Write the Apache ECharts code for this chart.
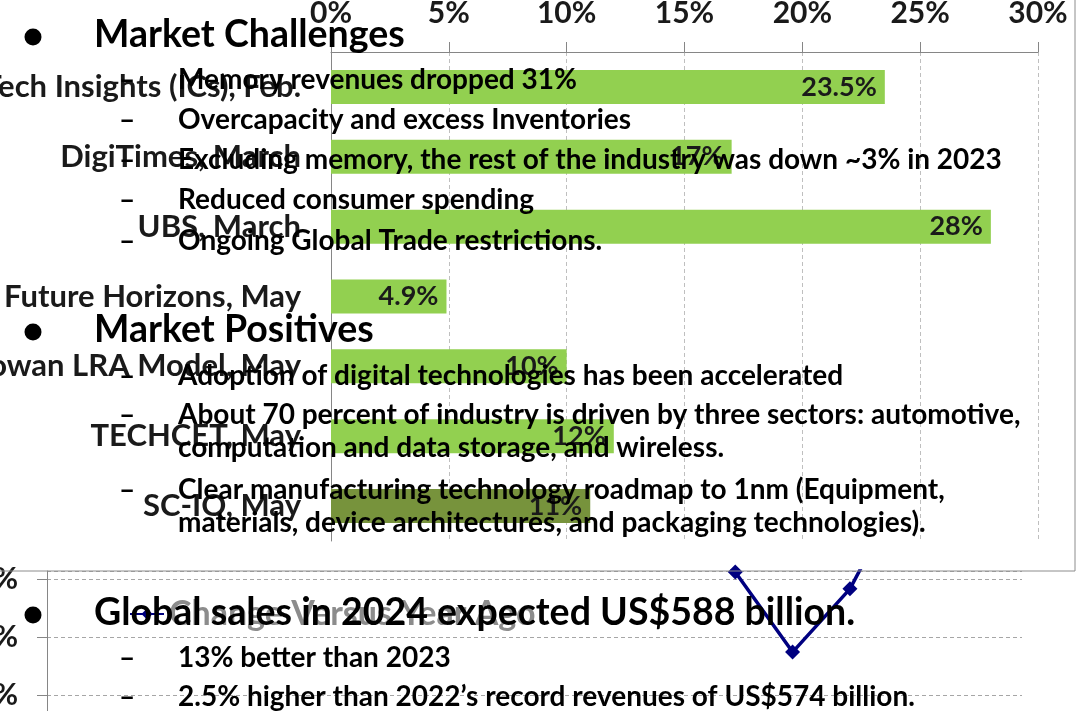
<!DOCTYPE html>
<html lang="en">
<head>
<meta charset="UTF-8">
<title>Semiconductor forecasts 2024</title>
<script src="https://cdn.jsdelivr.net/npm/echarts@6/dist/echarts.min.js"></script>
<style>
    html, body { margin: 0; padding: 0; background: #fff; }
</style>
</head>
<body>
<div id="main" style="width: 1078px;height:711px;"></div>
<script>
    // forecast sources and their 2024 growth numbers (%)
    var sources = ['Tech Insights (ICs), Feb.', 'DigiTimes, March', 'UBS, March', 'Future Horizons, May',
        'Cowan LRA Model, May', 'TECHCET, May', 'SC-IQ, May'];
    var forecast = [23.5, 17, 28, 4.9, 10, 12, 11];

    // lower chart: change versus year ago, only the end of it shows under the bar chart
    var periods = ['1', '2', '3', '4', '5', '6', '7', '8', '9', '10', '11', '12', '13', '14', '15', '16', '17', '18'];
    var yoyChange = [null, null, null, null, null, null, null, null, null, null, null, 12, 1.2, -12.6, -1.7, 17, null, null];

    // slide text laid over the charts
    var challenges = ['Memory revenues dropped 31%', 'Overcapacity and excess Inventories',
        'Excluding memory, the rest of the industry was down ~3% in 2023', 'Reduced consumer spending',
        'Ongoing Global Trade restrictions.'];
    var positives = ['Adoption of digital technologies has been accelerated',
        'About 70 percent of industry is driven by three sectors: automotive,',
        'computation and data storage, and wireless.',
        'Clear manufacturing technology roadmap to 1nm (Equipment,',
        'materials, device architectures, and packaging technologies).'];
    var outlook = ['13% better than 2023', '2.5% higher than 2022\u2019s record revenues of US$574 billion.'];

    var myChart = echarts.init(document.getElementById('main'));
    var axisGray = '#868686';
    var labelFont = {fontFamily: 'Lato', fontWeight: 'bold', fontSize: 30, color: '#1a1a1a'};

    var graphics = [{
        type: 'rect', silent: true, z: 5,
        shape: {x: -2, y: -2, width: 1077, height: 573},
        style: {fill: 'none', stroke: '#8c8c8c', lineWidth: 1}
    }];

    function heading(text, y) {
        graphics.push({type: 'circle', z: 100, shape: {cx: 33, cy: y + 2, r: 8.5}, style: {fill: '#000'}});
        graphics.push({type: 'text', z: 100, x: 94, y: y,
            style: {text: text, font: 'bold 37.5px Lato', fill: '#000', verticalAlign: 'middle'}});
    }
    function subLine(text, y, dash) {
        if (dash) {
            graphics.push({type: 'text', z: 100, x: 119, y: y,
                style: {text: '\u2013', font: 'bold 28px Lato', fill: '#000', verticalAlign: 'middle'}});
        }
        graphics.push({type: 'text', z: 100, x: 178, y: y,
            style: {text: text, font: 'bold 28px Lato', fill: '#000', verticalAlign: 'middle'}});
    }

    heading('Market Challenges', 35);
    var chY = [80, 120, 160, 200, 241];
    challenges.forEach(function (t, i) { subLine(t, chY[i], true); });

    heading('Market Positives', 330);
    var posY = [376, 415, 448, 490, 523];
    var posDash = [true, true, false, true, false];
    positives.forEach(function (t, i) { subLine(t, posY[i], posDash[i]); });

    heading('Global sales in 2024 expected US$588 billion.', 613);
    var outY = [658, 697];
    outlook.forEach(function (t, i) { subLine(t, outY[i], true); });

    var option = {
        backgroundColor: '#fff',
        animation: false,
        grid: [
            {left: 331, top: 52, width: 707, height: 489, outerBoundsMode: 'none'},
            {left: 47, top: 571, width: 975, height: 182, outerBoundsMode: 'none'}
        ],
        legend: {
            data: ['Change Versus Year Ago'],
            left: 124, top: 592,
            itemWidth: 34, itemHeight: 14,
            textStyle: {fontFamily: 'Lato', fontWeight: 'bold', fontSize: 34, color: '#8c8c8c'}
        },
        xAxis: [
            {
                type: 'value', gridIndex: 0, position: 'top',
                min: 0, max: 30, interval: 5,
                axisLine: {show: true, lineStyle: {color: axisGray}},
                axisTick: {show: true, length: 10, lineStyle: {color: axisGray}},
                axisLabel: Object.assign({formatter: '{value}%', margin: 24}, labelFont),
                splitLine: {show: true, lineStyle: {color: '#bfbfbf', type: [4, 3]}}
            },
            {
                type: 'category', gridIndex: 1, data: periods, boundaryGap: false, show: false
            }
        ],
        yAxis: [
            {
                type: 'category', gridIndex: 0, data: sources, inverse: true,
                axisLine: {show: true, lineStyle: {color: axisGray}},
                axisTick: {show: false},
                axisLabel: Object.assign({margin: 30}, labelFont, {fontSize: 31}),
                splitLine: {show: false}
            },
            {
                type: 'value', gridIndex: 1,
                min: -30, max: 1.38, interval: 10,
                axisLine: {show: true, lineStyle: {color: axisGray}},
                axisTick: {show: true, length: 10, lineStyle: {color: axisGray}},
                axisLabel: Object.assign({formatter: '{value}%', margin: 29, showMaxLabel: false}, labelFont),
                splitLine: {show: true, lineStyle: {color: '#a6a6a6', type: [4, 3]}}
            }
        ],
        series: [
            {
                name: 'Forecast',
                type: 'bar',
                xAxisIndex: 0, yAxisIndex: 0,
                data: forecast,
                barWidth: 34,
                itemStyle: {
                    color: function (p) {
                        return p.dataIndex === sources.length - 1 ? '#77933c' : '#92d050';
                    }
                },
                label: {
                    show: true, position: 'insideRight', distance: 8,
                    formatter: '{c}%',
                    fontFamily: 'Lato', fontWeight: 'bold', fontSize: 27, color: '#1a1a1a'
                }
            },
            {
                name: 'Change Versus Year Ago',
                type: 'line',
                xAxisIndex: 1, yAxisIndex: 1,
                data: yoyChange,
                symbol: 'diamond', symbolSize: 15,
                lineStyle: {color: '#000080', width: 3.5},
                itemStyle: {color: '#000080'},
                clip: true
            }
        ],
        graphic: {elements: graphics}
    };

    myChart.setOption(option);
</script>
</body>
</html>
